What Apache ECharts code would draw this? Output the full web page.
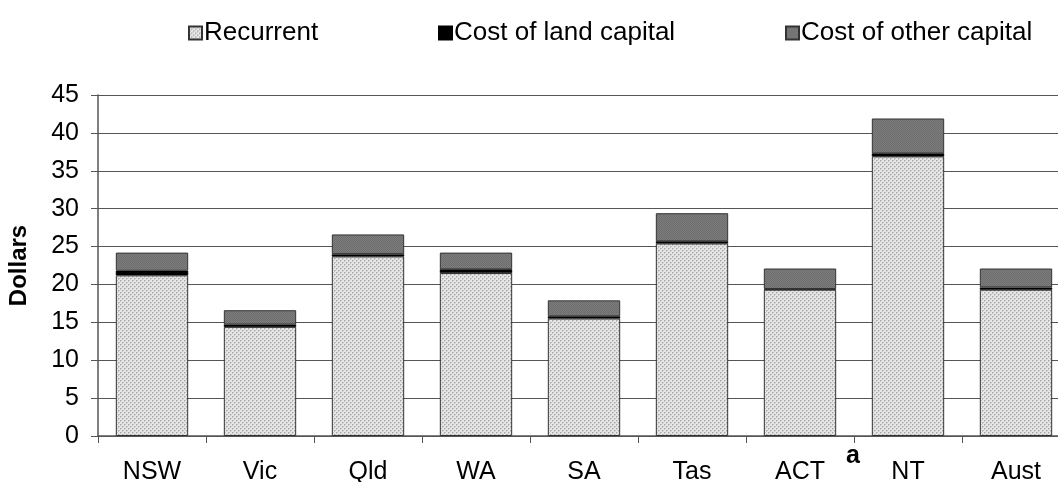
<!DOCTYPE html>
<html>
<head>
<meta charset="utf-8">
<script src="https://cdn.jsdelivr.net/npm/echarts@6/dist/echarts.min.js"></script>
<style>
  html, body { margin: 0; padding: 0; background: #fff; overflow: hidden; }
  #chart { width: 1058px; height: 482px; }
</style>
</head>
<body>
<div id="chart"></div>
<script>
// Cost per person by jurisdiction, split into recurrent and capital components
const categories = ['NSW', 'Vic', 'Qld', 'WA', 'SA', 'Tas', 'ACT', 'NT', 'Aust'];
const recurrent   = [21.2, 14.4, 23.7, 21.5, 15.5, 25.4, 19.3, 36.9, 19.3];
const landCapital = [0.6, 0.3, 0.3, 0.5, 0.3, 0.3, 0.1, 0.4, 0.3];
const otherCapital = [2.4, 1.9, 2.6, 2.2, 2.1, 3.7, 2.7, 4.6, 2.5];
const yTicks = { min: 0, max: 45, interval: 5 };

// Small repeating tiles used as bar fills
function makeTile(size, draw) {
  const c = document.createElement('canvas');
  c.width = size; c.height = size;
  draw(c.getContext('2d'));
  return c;
}
const dottedTile = makeTile(4, ctx => {
  ctx.fillStyle = '#e6e6e6'; ctx.fillRect(0, 0, 4, 4);
  ctx.fillStyle = '#a8a8a8';
  ctx.fillRect(0, 0, 1, 1); ctx.fillRect(2, 2, 1, 1);
  ctx.fillStyle = '#c4c4c4';
  ctx.fillRect(1, 0, 1, 1); ctx.fillRect(0, 1, 1, 1);
  ctx.fillRect(3, 2, 1, 1); ctx.fillRect(2, 3, 1, 1);
});
const darkTile = makeTile(2, ctx => {
  ctx.fillStyle = '#7e7e7e'; ctx.fillRect(0, 0, 2, 2);
  ctx.fillStyle = '#6c6c6c';
  ctx.fillRect(0, 0, 1, 1); ctx.fillRect(1, 1, 1, 1);
});

const FONT = 'Liberation Sans, Arial, sans-serif';
const FS = 25;
const chart = echarts.init(document.getElementById('chart'), null, { renderer: 'canvas' });

const barBase = {
  type: 'bar',
  stack: 'total',
  barCategoryGap: '33%',
  animation: false,
  emphasis: { disabled: true }
};

const legendBase = {
  top: 15,
  itemWidth: 13,
  itemHeight: 13,
  itemGap: 0,
  icon: 'rect',
  textStyle: { fontFamily: FONT, fontSize: 26, color: '#000', padding: [0, 0, 0, -3] },
  selectedMode: false
};

chart.setOption({
  backgroundColor: '#fff',
  animation: false,
  legend: [
    Object.assign({}, legendBase, { left: 183, data: ['Recurrent'] }),
    Object.assign({}, legendBase, { left: 433, data: ['Cost of land capital'] }),
    Object.assign({}, legendBase, { left: 780, data: ['Cost of other capital'] })
  ],
  // the plot runs a little past the right edge of the page
  grid: { left: 98, right: -12, top: 95, bottom: 46, containLabel: false, outerBoundsMode: 'none' },
  xAxis: {
    type: 'category',
    data: categories,
    axisLine: { lineStyle: { color: '#555', width: 1.5 } },
    axisTick: { show: true, length: 7, lineStyle: { color: '#555' } },
    axisLabel: { fontFamily: FONT, fontSize: FS, color: '#000', margin: 24 }
  },
  yAxis: {
    type: 'value',
    min: yTicks.min, max: yTicks.max, interval: yTicks.interval,
    name: 'Dollars',
    nameLocation: 'middle',
    nameGap: 67,
    nameRotate: 90,
    nameTextStyle: { fontFamily: FONT, fontSize: 24, fontWeight: 'bold', color: '#000' },
    axisLine: { show: true, lineStyle: { color: '#555', width: 1.5 } },
    axisTick: { show: true, length: 7, lineStyle: { color: '#555' } },
    axisLabel: { fontFamily: FONT, fontSize: FS, color: '#000', margin: 19 },
    splitLine: { show: true, lineStyle: { color: '#555', width: 1.2 } }
  },
  graphic: [{
    type: 'text',
    left: 846,
    top: 444,
    style: { text: 'a', font: 'bold 25px ' + FONT, fill: '#000' }
  }],
  series: [
    Object.assign({}, barBase, {
      name: 'Recurrent',
      data: recurrent,
      itemStyle: { color: { image: dottedTile, repeat: 'repeat' }, borderColor: '#333', borderWidth: 1 }
    }),
    Object.assign({}, barBase, {
      name: 'Cost of land capital',
      data: landCapital,
      itemStyle: { color: '#000', borderColor: '#000', borderWidth: 0.5 }
    }),
    Object.assign({}, barBase, {
      name: 'Cost of other capital',
      data: otherCapital,
      itemStyle: { color: { image: darkTile, repeat: 'repeat' }, borderColor: '#333', borderWidth: 1 }
    })
  ]
});
</script>
</body>
</html>
